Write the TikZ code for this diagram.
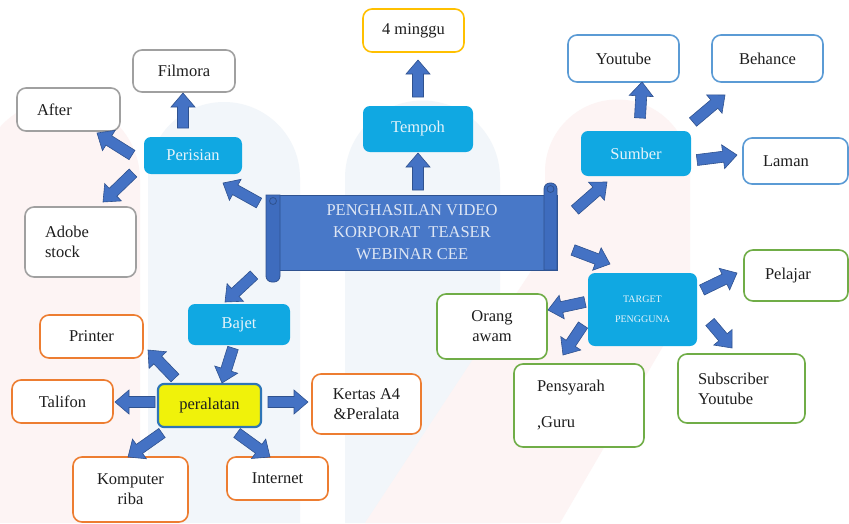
\documentclass[tikz,border=0pt]{standalone}
\usepackage{fontspec}
\setmainfont{Liberation Serif}
\usetikzlibrary{calc}

\definecolor{wmpink}{RGB}{253,244,244}
\definecolor{wmblue}{RGB}{242,246,250}
\definecolor{cyanfill}{RGB}{16,168,226}
\definecolor{cyantext}{RGB}{228,243,250}
\definecolor{scrollblue}{RGB}{72,120,200}
\definecolor{scrolldark}{RGB}{62,108,190}
\definecolor{scrolledge}{RGB}{47,82,143}
\definecolor{scrolltext}{RGB}{222,230,244}
\definecolor{arrowfill}{RGB}{68,114,196}
\definecolor{arrowedge}{RGB}{47,82,143}
\definecolor{greyedge}{RGB}{160,160,160}
\definecolor{orangeedge}{RGB}{237,125,49}
\definecolor{blueedge}{RGB}{91,155,213}
\definecolor{greenedge}{RGB}{112,173,71}
\definecolor{goldedge}{RGB}{255,192,0}
\definecolor{yellowfill}{RGB}{240,242,10}
\definecolor{yellowedge}{RGB}{46,117,182}
\definecolor{labeltext}{RGB}{30,30,30}

\newcommand\lblfont{\fontsize{16.5}{20}\selectfont}

% block arrow from a point near node #1 (offset #2) to a point near node #3 (offset #4)
\newcommand\blockarrow[4]{%
  \coordinate (ba-a) at ($(#1)+(#2)$);
  \coordinate (ba-b) at ($(#3)+(#4)$);
  \coordinate (ba-n) at ($(ba-b)!14pt!(ba-a)$);
  \draw[barrow] ($(ba-a)!5.5pt!90:(ba-b)$) -- ($(ba-n)!5.5pt!90:(ba-b)$)
    -- ($(ba-n)!12pt!90:(ba-b)$) -- (ba-b) -- ($(ba-n)!12pt!-90:(ba-b)$)
    -- ($(ba-n)!5.5pt!-90:(ba-b)$) -- ($(ba-a)!5.5pt!-90:(ba-b)$) -- cycle;}

\tikzset{
  barrow/.style={fill=arrowfill, draw=arrowedge, line width=0.6pt, line join=miter},
  box/.style={draw, fill=white, rounded corners=9pt, line width=1.6pt,
    text=labeltext, font=\lblfont, align=center, inner sep=0pt},
  greybox/.style={box, draw=greyedge},
  orangebox/.style={box, draw=orangeedge},
  bluebox/.style={box, draw=blueedge},
  greenbox/.style={box, draw=greenedge},
  goldbox/.style={box, draw=goldedge},
  cyanbox/.style={fill=cyanfill, rounded corners=7pt, text=cyantext,
    font=\lblfont, align=center, inner sep=0pt},
  yellowbox/.style={fill=yellowfill, draw=yellowedge, line width=2.2pt,
    rounded corners=6pt, text=labeltext, font=\lblfont, inner sep=0pt},
  padleft/.style={align=left, inner xsep=#1},
  scrollbody/.style={fill=scrollblue, draw=scrolledge, line width=0.8pt,
    text=scrolltext, font=\fontsize{16.5}{22}\selectfont, align=center, inner sep=0pt},
  scrollroll/.style={fill=scrolldark, draw=scrolledge, line width=0.8pt},
}

\begin{document}
\begin{tikzpicture}[x=1pt, y=-1pt]
\useasboundingbox (0,0) rectangle (849,523);
\fill[white] (0,0) rectangle (849,523);

% faint watermark columns behind the chart
\begin{scope}
\clip (0,0) rectangle (849,523);
\fill[wmpink] (-20,523) -- (-20,180) arc[start angle=180, end angle=0, radius=80pt] -- (140,523) -- cycle;
\fill[wmblue] (148,523) -- (148,178) arc[start angle=180, end angle=0, radius=76pt] -- (300,523) -- cycle;
\fill[wmblue] (345,523) -- (345,178) arc[start angle=180, end angle=0, radius=77.5pt] -- (500,523) -- cycle;
\fill[wmpink] (545,250) -- (545,172) arc[start angle=180, end angle=0, radius=72.5pt] -- (690,300) -- (560,523) -- (365,523) -- cycle;
\end{scope}

% central scroll
\node[scrollbody, minimum width=290pt, minimum height=75pt] (main) at (412,232.5)
  {PENGHASILAN VIDEO\\KORPORAT\ \ TEASER\\WEBINAR CEE};
\draw[scrollroll] (544,270) [rounded corners=6pt] -- (544,183) -- (557,183) [sharp corners] -- (557,270) -- cycle;
\draw[scrolledge, line width=0.8pt] (550.5,189) circle[radius=3.5pt];
\draw[scrollroll] (266,195) [rounded corners=6pt] -- (266,282) -- (280,282) [sharp corners] -- (280,195) -- cycle;
\draw[scrolledge, line width=0.8pt] (273,201) circle[radius=3.5pt];

% top branch
\node[cyanbox, minimum width=110pt, minimum height=46pt] (tempoh) at (418,129) {Tempoh};
\node[goldbox, minimum width=101pt, minimum height=43pt] (minggu) at (413.5,30.5) {4 minggu};

% software branch
\node[cyanbox, minimum width=98pt, minimum height=37pt] (perisian) at (193,155.5) {Perisian};
\node[greybox, minimum width=102pt, minimum height=42pt] (filmora) at (184,71) {Filmora};
\node[greybox, padleft=20pt, text width=63pt, minimum height=43pt] (after) at (68.5,109.5) {After};
\node[greybox, padleft=20pt, text width=71pt, minimum height=70pt] (adobe) at (80.5,242) {Adobe\\stock};

% budget branch
\node[cyanbox, minimum width=102pt, minimum height=41pt] (bajet) at (239,324.5) {Bajet};
\node[yellowbox, minimum width=103pt, minimum height=43pt] (peralatan) at (209.5,405.5) {peralatan};
\node[orangebox, minimum width=103pt, minimum height=43pt] (printer) at (91.5,336.5) {Printer};
\node[orangebox, minimum width=101pt, minimum height=43pt] (talifon) at (62.5,401.5) {Talifon};
\node[orangebox, minimum width=109pt, minimum height=60pt] (kertas) at (366.5,404) {Kertas A4\\\&Peralata};
\node[orangebox, minimum width=115pt, minimum height=65pt] (komputer) at (130.5,489.5) {Komputer\\riba};
\node[orangebox, minimum width=101pt, minimum height=43pt] (internet) at (277.5,478.5) {Internet};

% source branch
\node[cyanbox, minimum width=110pt, minimum height=45pt] (sumber) at (636,153.5) {Sumber};
\node[bluebox, minimum width=111pt, minimum height=47pt] (youtube) at (623.5,58.5) {Youtube};
\node[bluebox, minimum width=111pt, minimum height=47pt] (behance) at (767.5,58.5) {Behance};
\node[bluebox, padleft=20pt, text width=65pt, minimum height=46pt] (laman) at (795.5,161) {Laman};

% audience branch
\node[cyanbox, minimum width=109pt, minimum height=73pt, font=\fontsize{10}{20}\selectfont] (target) at (642.5,309.5) {TARGET\\PENGGUNA};
\node[greenbox, padleft=21pt, text width=62pt, minimum height=51pt] (pelajar) at (796,275.5) {Pelajar};
\node[greenbox, minimum width=110pt, minimum height=65pt] (orang) at (492,326.5) {Orang\\awam};
\node[greenbox, padleft=23pt, text width=84pt, minimum height=83pt] (pensyarah) at (579,405.5) {Pensyarah\\[16pt],Guru};
\node[greenbox, padleft=20pt, text width=87pt, minimum height=69pt] (subscriber) at (741.5,388.5) {Subscriber\\Youtube};

% connectors
\blockarrow{main}{6,-42.5}{tempoh}{0,24}
\blockarrow{tempoh}{0,-32}{minggu}{4.5,29.5}
\blockarrow{main}{-153,-29.5}{perisian}{30,27.5}
\blockarrow{perisian}{-10,-27.5}{filmora}{-1,22}
\blockarrow{perisian}{-61,-0.5}{after}{28.5,23.5}
\blockarrow{perisian}{-60,17.5}{adobe}{22.5,-40}
\blockarrow{main}{-158,42.5}{bajet}{-14,-22.5}
\blockarrow{bajet}{-6,23.5}{peralatan}{12.5,-22.5}
\blockarrow{peralatan}{-34.5,-27.5}{printer}{56.5,13.5}
\blockarrow{peralatan}{-54.5,-3.5}{talifon}{52.5,0.5}
\blockarrow{peralatan}{58.5,-3.5}{kertas}{-58.5,-2}
\blockarrow{peralatan}{-47.5,27.5}{komputer}{-2.5,-32.5}
\blockarrow{peralatan}{27.5,27.5}{internet}{-7.5,-21.5}
\blockarrow{main}{163,-22.5}{sumber}{-29,28.5}
\blockarrow{sumber}{4,-35.5}{youtube}{18.5,23.5}
\blockarrow{sumber}{57,-31.5}{behance}{-42.5,36.5}
\blockarrow{sumber}{61,6.5}{laman}{-58.5,-6}
\blockarrow{main}{161,17.5}{target}{-32.5,-45.5}
\blockarrow{target}{59.5,-19.5}{pelajar}{-59,-2.5}
\blockarrow{target}{-57.5,-7.5}{orang}{56,-16.5}
\blockarrow{target}{-59.5,15.5}{pensyarah}{-16,-50.5}
\blockarrow{target}{67.5,12.5}{subscriber}{-9.5,-40.5}
\end{tikzpicture}
\end{document}
